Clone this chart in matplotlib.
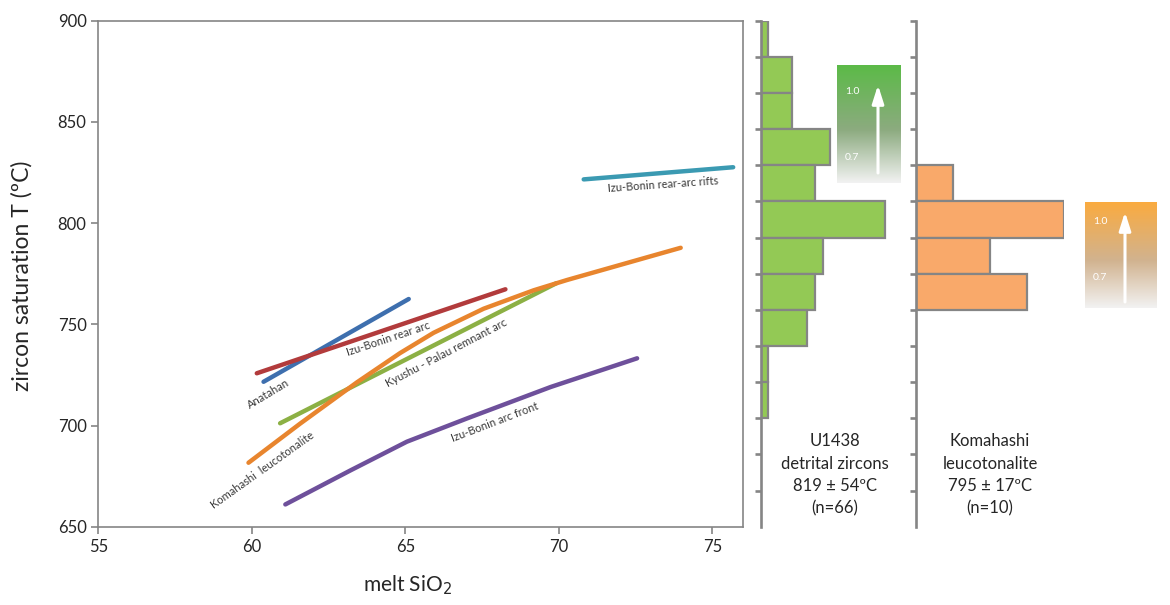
import numpy as np
import matplotlib
matplotlib.use("Agg")
import matplotlib.pyplot as plt

plt.rcParams["font.family"] = ["Lato", "DejaVu Sans"]

# ---------- data ----------

# zircon saturation curves: melt SiO2 (wt%) vs T (C)
anatahan_x = [60.38, 65.11]
anatahan_t = [721.6, 762.5]

rear_arc_x = [60.16, 68.26]
rear_arc_t = [725.8, 767.3]

kyushu_x = [60.92, 69.92]
kyushu_t = [701.1, 770.3]

komahashi_x = [59.89, 61.57, 63.42, 64.83, 65.92, 67.55, 69.18, 70.27, 72.99, 73.97]
komahashi_t = [681.6, 700.9, 721.3, 735.8, 745.8, 757.7, 766.8, 771.9, 783.6, 787.8]

arc_front_x = [61.09, 63.21, 65.05, 67.01, 69.73, 72.55]
arc_front_t = [661.0, 677.8, 692.0, 703.5, 719.0, 733.2]

rifts_x = [70.81, 75.68]
rifts_t = [821.6, 827.6]

# histogram counts, 14 bins from 900 C (top) down to 650 C
u1438_counts = [1, 4, 4, 9, 7, 16, 8, 7, 6, 1, 1, 0, 0, 0]
komahashi_counts = [0, 0, 0, 0, 1, 4, 2, 3, 0, 0, 0, 0, 0, 0]

t_min, t_max = 650, 900
x_ticks = [55, 60, 65, 70, 75]
y_ticks = [650, 700, 750, 800, 850, 900]

# ---------- figure ----------

W, H = 1170, 605
fig = plt.figure(figsize=(W / 100, H / 100), dpi=100)


def px_rect(x0, y0, x1, y1):
    """pixel box (top-left origin) -> figure fraction rect"""
    return [x0 / W, 1 - y1 / H, (x1 - x0) / W, (y1 - y0) / H]


GRAY = "#858585"
TXT = "#262626"
LBL = "#3a3a3a"

ax = fig.add_axes(px_rect(98.4, 20.7, 743, 526.7))

curves = [
    (anatahan_x, anatahan_t, "#3e6fae"),
    (rear_arc_x, rear_arc_t, "#b23b3c"),
    (kyushu_x, kyushu_t, "#8cb044"),
    (komahashi_x, komahashi_t, "#e8852e"),
    (arc_front_x, arc_front_t, "#6e509b"),
    (rifts_x, rifts_t, "#3b9ab2"),
]
for xs, ts, c in curves:
    ax.plot(xs, ts, color=c, lw=3.2, solid_capstyle="round", solid_joinstyle="round")

labels = [
    ("Anatahan", 60.55, 715.4, 31),
    ("Izu-Bonin rear arc", 64.45, 742.7, 18.5),
    ("Kyushu - Palau remnant arc", 66.33, 735.8, 27.5),
    ("Komahashi  leucotonalite", 60.36, 678.0, 35.5),
    ("Izu-Bonin arc front", 67.92, 701.8, 21),
    ("Izu-Bonin rear-arc rifts", 73.38, 818.8, 4),
]
for s, x, t, rot in labels:
    ax.text(x, t, s, rotation=rot, rotation_mode="anchor", ha="center",
            va="center", fontsize=8, color=LBL)

ax.set_xlim(55, 76)
ax.set_ylim(t_min, t_max)
ax.set_xticks(x_ticks)
ax.set_yticks(y_ticks)
for sp in ax.spines.values():
    sp.set_color(GRAY)
    sp.set_linewidth(1.2)
ax.tick_params(colors=GRAY, labelcolor=TXT, labelsize=12, length=5, width=1.2)

fig.text(22 / W, 1 - 276 / H, "zircon saturation T (ºC)", rotation=90,
         ha="center", va="center", fontsize=16.5, color=TXT)
fig.text(408 / W, 1 - 585 / H, "melt SiO$_2$", ha="center", va="center",
         fontsize=15, color=TXT)

# ---------- histograms ----------

n_bins = len(u1438_counts)
bin_h = (t_max - t_min) / n_bins
centers = [t_max - (i + 0.5) * bin_h for i in range(n_bins)]
edges = [t_max - i * bin_h for i in range(n_bins)]

hists = [
    (px_rect(760.7, 20.7, 915.7, 526.7), u1438_counts, "#93c955", 20),
    (px_rect(915.7, 20.7, 1063.7, 526.7), komahashi_counts, "#f9a96a", 4),
]
for rect, counts, fc, xmax in hists:
    hx = fig.add_axes(rect)
    hx.patch.set_alpha(0)
    for c, yc in zip(counts, centers):
        if c > 0:
            hx.barh(yc, c, height=bin_h, left=0, color=fc, edgecolor=GRAY, lw=1.6)
    hx.set_xlim(0, xmax)
    hx.set_ylim(t_min, t_max)
    for k in ["top", "right", "bottom"]:
        hx.spines[k].set_visible(False)
    hx.spines["left"].set_color(GRAY)
    hx.spines["left"].set_linewidth(1.9)
    hx.set_xticks([])
    hx.set_yticks(edges)
    hx.set_yticklabels([])
    hx.tick_params(axis="y", colors=GRAY, length=4, width=1.9)

fig.text(835 / W, 1 - 475 / H, "U1438\ndetrital zircons\n819 ± 54ºC\n(n=66)",
         ha="center", va="center", fontsize=12, color=TXT, linespacing=1.5)
fig.text(990 / W, 1 - 475 / H, "Komahashi\nleucotonalite\n795 ± 17ºC\n(n=10)",
         ha="center", va="center", fontsize=12, color=TXT, linespacing=1.5)

# ---------- gradient keys ----------


def gradient_key(box, top_rgb, mid_rgb, arrow_x, arrow_y0, arrow_y1, y10, y07):
    x0, y0, x1, y1 = box
    gx = fig.add_axes(px_rect(x0, y0, x1, y1))
    gx.set_axis_off()
    stops = np.array([top_rgb, mid_rgb, (0.95, 0.95, 0.95)])
    f = np.linspace(0, 1, 200)
    grad = np.stack([np.interp(f, [0, 0.55, 1], stops[:, i]) for i in range(3)], axis=1)
    gx.imshow(grad[:, None, :], aspect="auto", extent=[x0, x1, y1, y0])
    gx.set_xlim(x0, x1)
    gx.set_ylim(y1, y0)
    gx.annotate("", xy=(arrow_x, arrow_y1), xytext=(arrow_x, arrow_y0),
                arrowprops=dict(arrowstyle="-|>,head_length=1.1,head_width=0.35",
                                color="white", lw=2.2, shrinkA=0, shrinkB=0))
    gx.text(x0 + 8, y10, "1.0", color="white", fontsize=7.5, va="center")
    gx.text(x0 + 8, y07, "0.7", color="white", fontsize=7.5, va="center")


gradient_key((837, 65, 901, 183), (0.36, 0.73, 0.28), (0.55, 0.67, 0.50),
             878, 173, 85, 92, 157)
gradient_key((1085, 202, 1157, 308), (0.98, 0.67, 0.25), (0.82, 0.70, 0.56),
             1125, 302, 212, 221, 277)

fig.savefig("out.png", dpi=100)
